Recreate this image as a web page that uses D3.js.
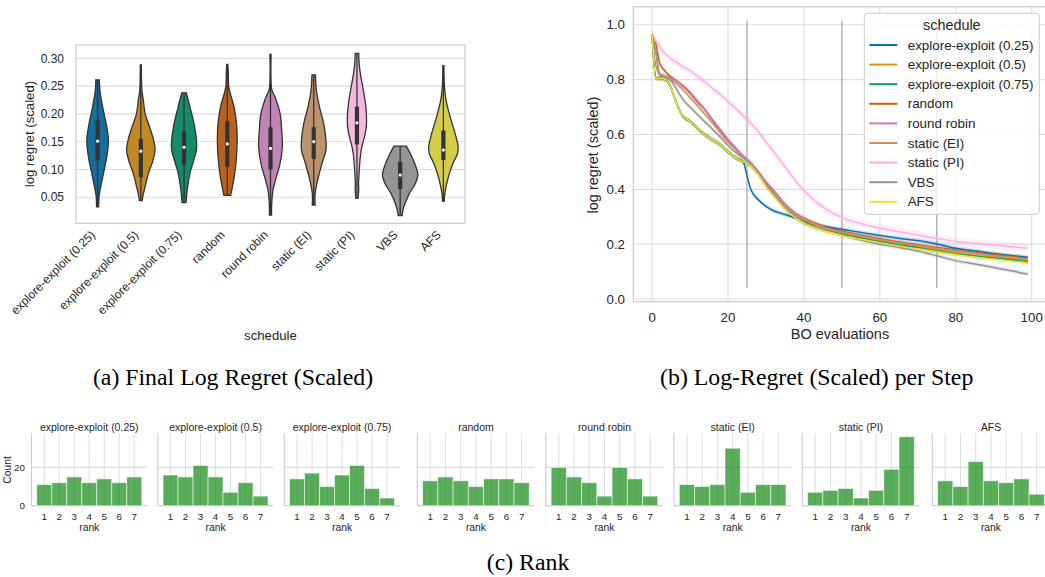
<!DOCTYPE html>
<html><head><meta charset="utf-8">
<script src="https://cdn.jsdelivr.net/npm/d3@7"></script>
<style>
body{margin:0;background:#fff}
svg{display:block}
text{font-family:"Liberation Sans",Arial,sans-serif;fill:#262626}
.cap{font-family:"Liberation Serif","Times New Roman",serif;fill:#000}
</style>
</head><body>
<svg id="c" width="1045" height="577"></svg>
<script>
// ---------------- DATA ----------------
const schedules = ["explore-exploit (0.25)","explore-exploit (0.5)","explore-exploit (0.75)","random","round robin","static (EI)","static (PI)","VBS","AFS"];
const palette = ["#0173b2","#de8f05","#029e73","#d55e00","#cc78bc","#ca9161","#fbafe4","#949494","#ece133"];

// (a) violin outlines: [log regret value, relative density]
const violinEE025 = [[0.261,.10],[0.243,.13],[0.213,.28],[0.183,.48],[0.153,.61],[0.123,.52],[0.093,.33],[0.063,.14],[0.051,.08],[0.033,.06]];
const violinEE05  = [[0.288,.03],[0.243,.06],[0.225,.14],[0.201,.24],[0.177,.49],[0.153,.72],[0.135,.80],[0.117,.69],[0.093,.43],[0.069,.24],[0.051,.11],[0.044,.08]];
const violinEE075 = [[0.238,.13],[0.213,.33],[0.183,.56],[0.153,.70],[0.135,.70],[0.117,.55],[0.093,.33],[0.063,.18],[0.0403,.11]];
const violinRandom = [[0.289,.03],[0.273,.06],[0.249,.08],[0.231,.22],[0.213,.38],[0.183,.52],[0.153,.56],[0.123,.52],[0.093,.42],[0.069,.29],[0.0535,.19]];
const violinRR    = [[0.307,.03],[0.243,.08],[0.231,.25],[0.201,.54],[0.171,.63],[0.141,.67],[0.111,.54],[0.081,.28],[0.063,.14],[0.039,.07],[0.018,.06]];
const violinEI    = [[0.270,.10],[0.243,.15],[0.213,.32],[0.183,.56],[0.153,.69],[0.135,.69],[0.111,.47],[0.081,.22],[0.057,.08],[0.036,.08]];
const violinPI    = [[0.309,.10],[0.297,.11],[0.273,.19],[0.243,.36],[0.213,.50],[0.183,.54],[0.165,.47],[0.141,.28],[0.123,.19],[0.093,.12],[0.075,.09],[0.063,.10],[0.048,.06]];
const violinVBS   = [[0.142,.35],[0.123,.66],[0.105,.89],[0.090,1.0],[0.075,.86],[0.057,.52],[0.039,.28],[0.024,.14],[0.017,.11]];
const violinAFS   = [[0.287,.03],[0.249,.06],[0.225,.15],[0.195,.38],[0.165,.66],[0.141,.83],[0.129,.80],[0.111,.54],[0.093,.34],[0.069,.15],[0.051,.06],[0.043,.06]];
const violins = [violinEE025,violinEE05,violinEE075,violinRandom,violinRR,violinEI,violinPI,violinVBS,violinAFS];
// inner box statistics
const boxQ1     = [0.116,0.086,0.109,0.105,0.100,0.119,0.145,0.065,0.117];
const boxMedian = [0.151,0.133,0.140,0.146,0.138,0.150,0.184,0.090,0.135];
const boxQ3     = [0.188,0.155,0.169,0.187,0.176,0.176,0.213,0.114,0.170];
const whiskLo   = [0.033,0.044,0.040,0.053,0.018,0.036,0.048,0.017,0.043];
const whiskHi   = [0.261,0.288,0.238,0.289,0.307,0.270,0.309,0.142,0.287];
const violinTicks = [0.05,0.10,0.15,0.20,0.25,0.30];

// (b) log regret per step
const evals = [0,1,2,3,4,5,6,8,10,12,14,16,18,20,22,24,25,26,28,30,32,35,38,40,45,50,55,60,65,70,75,80,85,90,95,99];
const stepEE025 = [0.965,0.805,0.805,0.803,0.795,0.77,0.73,0.668,0.648,0.622,0.598,0.58,0.562,0.537,0.515,0.5, 0.45,0.40,0.362,0.338,0.322,0.308,0.294,0.283,0.266,0.254,0.243,0.232,0.222,0.213,0.201,0.185,0.176,0.166,0.158,0.152];
const stepEE05  = [0.965,0.805,0.805,0.803,0.795,0.77,0.73,0.668,0.648,0.622,0.598,0.58,0.562,0.537,0.515,0.5, 0.495,0.485,0.455,0.415,0.38,0.332,0.298,0.282,0.255,0.238,0.225,0.212,0.2,0.19,0.178,0.168,0.158,0.152,0.146,0.14];
const stepEE075 = [0.965,0.805,0.805,0.803,0.795,0.77,0.73,0.668,0.648,0.622,0.598,0.58,0.562,0.537,0.515,0.5, 0.495,0.485,0.455,0.413,0.379,0.331,0.296,0.28,0.253,0.236,0.222,0.209,0.197,0.187,0.175,0.165,0.156,0.149,0.142,0.136];
const stepRandom = [0.965,0.93,0.86,0.838,0.822,0.81,0.8,0.778,0.75,0.718,0.688,0.65,0.615,0.58,0.55,0.52, 0.508,0.495,0.462,0.425,0.395,0.345,0.31,0.295,0.266,0.247,0.233,0.22,0.208,0.198,0.188,0.179,0.17,0.162,0.155,0.148];
const stepRR     = [0.965,0.9,0.82,0.815,0.81,0.805,0.798,0.78,0.755,0.722,0.69,0.652,0.618,0.582,0.552,0.522, 0.51,0.497,0.465,0.428,0.397,0.347,0.31,0.293,0.263,0.244,0.23,0.217,0.205,0.195,0.185,0.176,0.167,0.159,0.151,0.144];
const stepEI     = [0.965,0.85,0.82,0.815,0.808,0.8,0.79,0.765,0.735,0.705,0.672,0.64,0.605,0.572,0.545,0.515, 0.505,0.492,0.46,0.42,0.39,0.34,0.305,0.29,0.261,0.243,0.229,0.216,0.204,0.194,0.184,0.175,0.166,0.158,0.151,0.145];
const stepPI     = [0.965,0.94,0.92,0.9,0.887,0.877,0.868,0.848,0.832,0.812,0.79,0.767,0.745,0.72,0.695,0.668, 0.655,0.64,0.61,0.572,0.537,0.482,0.428,0.396,0.335,0.297,0.275,0.258,0.245,0.233,0.221,0.21,0.203,0.197,0.19,0.185];
const stepVBS    = [0.965,0.9,0.815,0.812,0.805,0.795,0.775,0.73,0.7,0.672,0.645,0.618,0.59,0.56,0.535,0.515, 0.505,0.49,0.455,0.415,0.383,0.333,0.295,0.278,0.252,0.233,0.215,0.2,0.188,0.175,0.158,0.14,0.128,0.115,0.102,0.09];
const stepAFS    = [0.965,0.805,0.805,0.803,0.795,0.77,0.73,0.668,0.648,0.622,0.598,0.58,0.562,0.537,0.515,0.5, 0.495,0.485,0.452,0.41,0.376,0.328,0.293,0.277,0.25,0.232,0.218,0.205,0.193,0.183,0.172,0.162,0.153,0.146,0.138,0.131];
const stepSeries = [stepEE025,stepEE05,stepEE075,stepRandom,stepRR,stepEI,stepPI,stepVBS,stepAFS];
const ciHalf = [0.008,0.008,0.008,0.008,0.008,0.008,0.015,0.008,0.008];
const switchPoints = [25,50,75];
const stepXTicks = [0,20,40,60,80,100];
const stepYTicks = [0.0,0.2,0.4,0.6,0.8,1.0];

// (c) rank histograms
const histNames = ["explore-exploit (0.25)","explore-exploit (0.5)","explore-exploit (0.75)","random","round robin","static (EI)","static (PI)","AFS"];
const ranks = [1,2,3,4,5,6,7];
const countEE025 = [11,12,15,12,14,12,15];
const countEE05  = [16,15,21,15,7,12,5];
const countEE075 = [14,17,10,16,21,9,4];
const countRandom = [13,15,13,10,14,14,12];
const countRR    = [20,15,12,5,20,14,5];
const countEI    = [11,10,11,30,7,11,11];
const countPI    = [7,8,9,4,8,19,36];
const countAFS   = [13,10,23,13,12,14,6];
const histCounts = [countEE025,countEE05,countEE075,countRandom,countRR,countEI,countPI,countAFS];
const countTicks = [0,20];

const captions = ["(a) Final Log Regret (Scaled)","(b) Log-Regret (Scaled) per Step","(c) Rank"];

// ---------------- DRAWING ----------------
const svg = d3.select("#c");
svg.append("rect").attr("width",1045).attr("height",577).attr("fill","#fff");
const gridCol = "#dedede", spineCol = "#cccccc", ink = "#333333";

// ===== (a) violins
(function(){
  const x0=76,x1=465,y0=45,y1=223.3;
  const x = d3.scaleBand().domain(schedules).range([x0,x1]).padding(0);
  const y = d3.scaleLinear().domain([0.0032,0.324]).range([y1,y0]);
  const w = d3.scaleLinear().domain([0,1]).range([0,x.bandwidth()*0.41]);
  const g = svg.append("g");
  g.selectAll("line.grid").data(violinTicks).join("line")
    .attr("x1",x0).attr("x2",x1).attr("y1",d=>y(d)).attr("y2",d=>y(d))
    .attr("stroke",gridCol).attr("stroke-width",1.1);
  g.append("rect").attr("x",x0).attr("y",y0).attr("width",x1-x0).attr("height",y1-y0)
    .attr("fill","none").attr("stroke",spineCol).attr("stroke-width",1.25);
  schedules.forEach((s,i)=>{
    const cx = x(s)+x.bandwidth()/2;
    const c = d3.hsl(palette[i]); c.s *= 0.75;
    const area = d3.area().y(d=>y(d[0])).x0(d=>cx-w(d[1])).x1(d=>cx+w(d[1])).curve(d3.curveCatmullRom.alpha(0.5));
    g.append("path").attr("d",area(violins[i])).attr("fill",c.formatHex())
      .attr("stroke",ink).attr("stroke-width",1.3);
    g.append("line").attr("x1",cx).attr("x2",cx).attr("y1",y(whiskLo[i])).attr("y2",y(whiskHi[i]))
      .attr("stroke",ink).attr("stroke-width",1.3);
    g.append("rect").attr("x",cx-2.1).attr("width",4.2).attr("y",y(boxQ3[i])).attr("height",y(boxQ1[i])-y(boxQ3[i]))
      .attr("fill",ink);
    g.append("circle").attr("cx",cx).attr("cy",y(boxMedian[i])).attr("r",1.6).attr("fill","#fff");
    g.append("text").attr("transform",`translate(${cx-1.8},235.6) rotate(-45)`)
      .attr("text-anchor","end").attr("font-size",12).text(s);
  });
  g.selectAll("text.yt").data(violinTicks).join("text")
    .attr("x",x0-12).attr("y",d=>y(d)).attr("dy","0.35em").attr("text-anchor","end")
    .attr("font-size",12).text(d=>d3.format(".2f")(d));
  g.append("text").attr("transform","translate(29.3,134) rotate(-90)").attr("text-anchor","middle")
    .attr("dy","0.35em").attr("font-size",13.2).text("log regret (scaled)");
  g.append("text").attr("x",(x0+x1)/2).attr("y",335).attr("dy","0.35em").attr("text-anchor","middle")
    .attr("font-size",13.2).text("schedule");
})();

// ===== (b) lines
(function(){
  const x0=633.3,x1=1046.7,y0=6.7,y1=301.7;
  const x = d3.scaleLinear().domain([-4.95,103.95]).range([x0,x1]);
  const y = d3.scaleLinear().domain([-0.0098,1.066]).range([y1,y0]);
  const g = svg.append("g");
  g.selectAll("line.gx").data(stepXTicks).join("line")
    .attr("x1",d=>x(d)).attr("x2",d=>x(d)).attr("y1",y0).attr("y2",y1).attr("stroke",gridCol).attr("stroke-width",1.1);
  g.selectAll("line.gy").data(stepYTicks).join("line")
    .attr("x1",x0).attr("x2",x1).attr("y1",d=>y(d)).attr("y2",d=>y(d)).attr("stroke",gridCol).attr("stroke-width",1.1);
  g.append("rect").attr("x",x0).attr("y",y0).attr("width",x1-x0).attr("height",y1-y0)
    .attr("fill","none").attr("stroke",spineCol).attr("stroke-width",1.25);
  g.selectAll("line.sw").data(switchPoints).join("line")
    .attr("x1",d=>x(d)).attr("x2",d=>x(d)).attr("y1",y(0.04)).attr("y2",y(1.015))
    .attr("stroke","#a8a8a8").attr("stroke-width",1.3);
  stepSeries.forEach((vals,i)=>{
    const pts = evals.map((e,k)=>[e,vals[k]]);
    const band = d3.area().x(d=>x(d[0])).y0(d=>y(d[1]-ciHalf[i])).y1(d=>y(d[1]+ciHalf[i])).curve(d3.curveMonotoneX);
    g.append("path").attr("d",band(pts)).attr("fill",palette[i]).attr("fill-opacity",0.2);
  });
  stepSeries.forEach((vals,i)=>{
    const pts = evals.map((e,k)=>[e,vals[k]]);
    const line = d3.line().x(d=>x(d[0])).y(d=>y(d[1])).curve(d3.curveMonotoneX);
    g.append("path").attr("d",line(pts)).attr("fill","none").attr("stroke",palette[i]).attr("stroke-width",1.5);
  });
  g.selectAll("text.xt").data(stepXTicks).join("text")
    .attr("x",d=>x(d)).attr("y",317.3).attr("dy","0.35em").attr("text-anchor","middle")
    .attr("font-size",13.3).text(d=>d);
  g.selectAll("text.yt").data(stepYTicks).join("text")
    .attr("x",x0-8.3).attr("y",d=>y(d)).attr("dy","0.35em").attr("text-anchor","end")
    .attr("font-size",13.3).text(d=>d3.format(".1f")(d));
  g.append("text").attr("transform","translate(593.3,155) rotate(-90)").attr("text-anchor","middle")
    .attr("dy","0.35em").attr("font-size",14.5).text("log regret (scaled)");
  g.append("text").attr("x",840).attr("y",334.3).attr("dy","0.35em").attr("text-anchor","middle")
    .attr("font-size",14.5).text("BO evaluations");
  // legend
  const lg = g.append("g");
  lg.append("rect").attr("x",864.3).attr("y",13.3).attr("width",175).attr("height",201).attr("rx",3)
    .attr("fill","#fff").attr("fill-opacity",0.8).attr("stroke","#cccccc").attr("stroke-width",1);
  lg.append("text").attr("x",951.8).attr("y",25).attr("dy","0.35em").attr("text-anchor","middle")
    .attr("font-size",14.4).text("schedule");
  schedules.forEach((s,i)=>{
    const yy = 45+19.6*i;
    lg.append("line").attr("x1",869.3).attr("x2",897.3).attr("y1",yy).attr("y2",yy)
      .attr("stroke",palette[i]).attr("stroke-width",2);
    lg.append("text").attr("x",907.7).attr("y",yy).attr("dy","0.35em").attr("font-size",13.4).text(s);
  });
})();

// ===== (c) histograms
(function(){
  const lefts = [31.5,157.8,284.3,417.3,545.8,674,802.3,932.3];
  const yTop=433.3, yBot=505.7;
  const y = d3.scaleLinear().domain([0,37.8]).range([yBot,yTop]);
  histNames.forEach((name,p)=>{
    const L = lefts[p], Wd = p<3 ? 115.5 : 117.3;
    const x = d3.scaleLinear().domain([0.15,7.85]).range([L,L+Wd]);
    const g = svg.append("g");
    g.selectAll("line.gx").data(ranks).join("line")
      .attr("x1",d=>x(d)).attr("x2",d=>x(d)).attr("y1",yTop).attr("y2",yBot).attr("stroke",gridCol).attr("stroke-width",1);
    g.selectAll("line.gy").data(countTicks.slice(1)).join("line")
      .attr("x1",L).attr("x2",L+Wd).attr("y1",d=>y(d)).attr("y2",d=>y(d)).attr("stroke",gridCol).attr("stroke-width",1.1);
    g.append("line").attr("x1",L).attr("x2",L).attr("y1",yTop).attr("y2",yBot).attr("stroke",spineCol).attr("stroke-width",1.1);
    g.append("line").attr("x1",L).attr("x2",L+Wd).attr("y1",yBot).attr("y2",yBot).attr("stroke",spineCol).attr("stroke-width",1.25);
    g.selectAll("rect.bar").data(ranks).join("rect")
      .attr("x",d=>x(d-0.5)).attr("width",d=>x(d+0.5)-x(d-0.5))
      .attr("y",(d,k)=>y(histCounts[p][k])).attr("height",(d,k)=>y(0)-y(histCounts[p][k]))
      .attr("fill","#008000").attr("fill-opacity",0.65)
      .attr("stroke","#ffffff").attr("stroke-opacity",0.6).attr("stroke-width",0.9);
    g.append("text").attr("x",L+Wd/2).attr("y",427.3).attr("dy","0.35em").attr("text-anchor","middle")
      .attr("font-size",10.5).text(name);
    g.selectAll("text.xt").data(ranks).join("text")
      .attr("x",d=>x(d)).attr("y",516.7).attr("dy","0.35em").attr("text-anchor","middle")
      .attr("font-size",9.8).text(d=>d);
    g.append("text").attr("x",L+Wd/2).attr("y",527.3).attr("dy","0.35em").attr("text-anchor","middle")
      .attr("font-size",10.3).text("rank");
    if(p===0){
      g.selectAll("text.yt").data(countTicks).join("text")
        .attr("x",L-6.5).attr("y",d=>y(d)).attr("dy","0.35em").attr("text-anchor","end")
        .attr("font-size",9.8).text(d=>d);
      g.append("text").attr("transform","translate(7,470) rotate(-90)").attr("text-anchor","middle")
        .attr("dy","0.35em").attr("font-size",10.3).text("Count");
    }
  });
})();

// ===== captions
const capPos = [[233,385],[816.7,385],[528,570]];
captions.forEach((t,i)=>{
  svg.append("text").attr("class","cap").attr("x",capPos[i][0]).attr("y",capPos[i][1])
    .attr("text-anchor","middle").attr("font-size",23.8).text(t);
});
</script>
</body></html>
